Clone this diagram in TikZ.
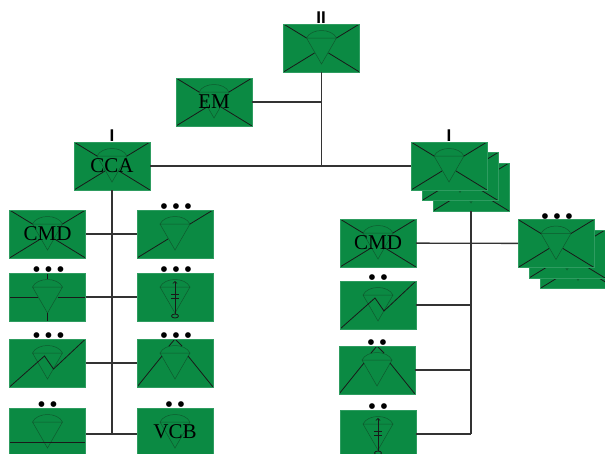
\documentclass[tikz,border=0pt]{standalone}
\usepackage{fontspec}
\setmainfont{Liberation Serif}
\setsansfont{Liberation Sans}
\usetikzlibrary{positioning}
\definecolor{unitgreen}{HTML}{0B8A43}
\definecolor{unitedge}{HTML}{2E9C60}
\definecolor{conegreen}{HTML}{0F5A2E}
\newcommand{\conelines}{
  \draw [conemark] (-15,-10) -- (15,-10) -- (0,16) -- cycle;
  \draw [conemark] (-15,-10) .. controls (-10,-20) and (10,-20) .. (15,-10);
}
\tikzset{
  unit/.style = {draw=unitedge, fill=unitgreen, line width=.5pt, minimum width=76pt,
    minimum height=48pt, inner sep=0pt, outer sep=0pt},
  unitname/.style = {inner sep=0pt, font=\fontsize{21}{21}\selectfont},
  conemark/.style = {draw=conegreen, line width=.5pt},
  hairline/.style = {draw=black!90, line width=.8pt},
  link/.style = {draw=black!80, line width=1.3pt},
  symbol/.style = {unit, path picture={
    \begin{scope}[shift={(path picture bounding box.center)}]
      \conelines
      #1
    \end{scope}}},
  plainunit/.style = {symbol={}},
  xcross/.style = {symbol={
    \draw [hairline] (-38,-24) -- (-15,-10) (38,-24) -- (15,-10);
    \draw [hairline] (-38,24) -- (-7,5) (38,24) -- (7,5);}},
  slash/.style = {symbol={\draw [hairline] (-38,24) -- (-7,5) (15,-10) -- (38,-24);}},
  zigzag/.style = {symbol={\draw [hairline] (-38,24) -- (-3,-7) -- (6,6) -- (38,-24);}},
  peak/.style = {symbol={
    \draw [hairline] (-38,24) -- (-13,-7) (38,24) -- (13,-7);
    \draw [hairline] (-6,-17) -- (0,-24) -- (7,-17);}},
  arrowup/.style = {symbol={
    \draw [hairline, ->] (0,17) -- (0,-16);
    \draw [hairline] (-4,-3) -- (4,-3) (-4,1) -- (4,1);
    \draw [hairline] (0,19) ellipse (3.5 and 2);}},
  cross/.style = {symbol={
    \draw [hairline] (-38,0) -- (-10,0) (10,0) -- (38,0);
    \draw [hairline] (0,-24) -- (0,-18) (0,16) -- (0,24);}},
  lowline/.style = {symbol={\draw [hairline] (-38,10) -- (38,10);}},
  echelon/.style = {inner sep=0pt, font=\fontsize{17}{17}\selectfont\sffamily\bfseries},
  dotmark/.style = {inner sep=0pt, font=\fontsize{24}{24}\selectfont},
}
\begin{document}
\begin{tikzpicture}[x=1pt, y=-1pt]
  \clip (0,0) rectangle (605,453);

  % upper levels
  \node (ii) [xcross] at (321.5,48) {};
  \node (em) [xcross, left=31.5pt of ii, yshift=-54pt] {};
  \node (cca) [xcross, below=16pt of em, xshift=-102pt] {};
  \node (sa3) [xcross] at (471,187) {};
  \node (sa2) [xcross, xshift=-11pt, yshift=10.5pt] at (sa3) {};
  \node (sa) [xcross, xshift=-11pt, yshift=10.5pt] at (sa2) {};

  % left group
  \node (cmda) [xcross] at (47.5,234) {};
  \node (a1) [slash, right=51.5pt of cmda] {};
  \node (b0) [cross, below=15pt of cmda] {};
  \node (b1) [arrowup, right=51.5pt of b0] {};
  \node (c0) [zigzag, below=18pt of b0] {};
  \node (c1) [peak, right=51.5pt of c0] {};
  \node (d0) [lowline, below=21pt of c0] {};
  \node (d1) [plainunit, right=51.5pt of d0] {};

  % right group
  \node (cmdb) [xcross] at (378,243) {};
  \node (e1) [zigzag, below=14pt of cmdb] {};
  \node (e2) [peak, below=17pt of e1, xshift=-1pt] {};
  \node (e3) [arrowup, below=16pt of e2, xshift=1pt] {};
  \node (sb3) [xcross] at (578,264.5) {};
  \node (sb2) [xcross, xshift=-11pt, yshift=10.5pt] at (sb3) {};
  \node (sb) [xcross, xshift=-11pt, yshift=10.5pt] at (sb2) {};

  % connectors
  \draw [link] (ii) -- (ii |- cca);
  \draw [link] (em) -- (em -| ii);
  \draw [link] (cca) -- (sa);
  \draw [link] (cca) -- ([yshift=-2pt]cca |- d0);
  \draw [link] (cmda) -- (a1);
  \draw [link] (b0) -- (b1);
  \draw [link] (c0) -- (c1);
  \draw [link] ([yshift=-2pt]d0.east) -- ([yshift=-2pt]d1.west);
  \draw [link] (sa3) -- (sa3 |- e3);
  \draw [link] (cmdb) -- (sb);
  \draw [link] (e1) -- (e1 -| sa3);
  \draw [link] (e2) -- (e2 -| sa3);
  \draw [link] (e3) -- (e3 -| sa3);

  % names on top of the units
  \node (emname) [unitname] at (em) {EM};
  \node (ccaname) [unitname] at (cca) {CCA};
  \node (cmdaname) [unitname] at (cmda) {CMD};
  \node (vcbname) [unitname] at (d1) {VCB};
  \node (cmdbname) [unitname] at (cmdb) {CMD};

  % level marks
  \node (markii) [echelon, above=0pt of ii, xshift=-.5pt] {II};
  \node (markcca) [echelon, above=0pt of cca] {I};
  \node (marksa) [echelon, above=0pt of sa] {I};
  \foreach \n in {a1,b0,b1,c0,c1,sb}
    \node (dots\n) [dotmark, above=-4.9pt of \n, xshift=1pt] {•\hspace{3.6pt}•\hspace{3.6pt}•};
  \foreach \n in {d0,d1,e1,e2,e3}
    \node (dots\n) [dotmark, above=-4.9pt of \n] {•\hspace{3.6pt}•};
\end{tikzpicture}
\end{document}
